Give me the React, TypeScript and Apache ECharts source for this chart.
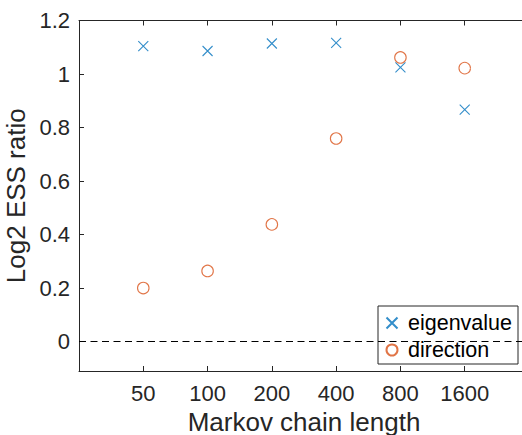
import React, { useEffect, useRef } from "react";
import * as echarts from "echarts";

const categories = ["50", "100", "200", "400", "800", "1600"];
const eigenvalue = [1.104, 1.086, 1.114, 1.116, 1.025, 0.867];
const direction = [0.2, 0.264, 0.438, 0.759, 1.062, 1.022];
const yTicks = [0, 0.2, 0.4, 0.6, 0.8, 1, 1.2];
const xTicks = [1, 2, 3, 4, 5, 6];

const FONT = "'Liberation Sans', Arial, Helvetica, sans-serif";
const AX = "#262626";
const BLUE = "#0072BD";
const ORANGE = "#D95319";
const CROSS = "path://M0,0L10,10M10,0L0,10";

export default function App() {
  const ref = useRef<HTMLDivElement>(null);
  useEffect(() => {
    document.body.style.margin = "0";
    const chart = echarts.init(ref.current!, null, { renderer: "svg" });
    const xBase = {
      type: "value",
      min: 0,
      max: 7,
      splitLine: { show: false },
      axisLine: { show: true, onZero: false, lineStyle: { color: AX, width: 1 } },
      axisTick: { show: true, inside: true, length: 5, customValues: xTicks, lineStyle: { color: AX } },
    };
    chart.setOption({
      animation: false,
      textStyle: { fontFamily: FONT },
      grid: { left: 79, top: 20.5, right: -7, bottom: 64, containLabel: false, outerBoundsMode: "none" },
      xAxis: [
        {
          ...xBase,
          position: "bottom",
          name: "Markov chain length",
          nameLocation: "middle",
          nameGap: 36,
          nameTextStyle: { fontSize: 26, color: AX, fontFamily: FONT },
          axisLabel: {
            show: true,
            customValues: xTicks,
            fontSize: 22,
            color: AX,
            fontFamily: FONT,
            margin: 11,
            formatter: (v: number) => categories[Math.round(v) - 1] ?? "",
          },
        },
        { ...xBase, position: "top", axisLabel: { show: false } },
      ],
      yAxis: {
        type: "value",
        min: -0.11,
        max: 1.2,
        splitLine: { show: false },
        name: "Log2 ESS ratio",
        nameLocation: "middle",
        nameGap: 44,
        nameTextStyle: { fontSize: 26, color: AX, fontFamily: FONT },
        axisLine: { show: true, lineStyle: { color: AX, width: 1 } },
        axisTick: { show: true, inside: true, length: 5, customValues: yTicks, lineStyle: { color: AX } },
        axisLabel: {
          customValues: yTicks,
          fontSize: 22,
          color: AX,
          fontFamily: FONT,
          margin: 9,
          formatter: (v: number) => String(+v.toFixed(1)),
        },
      },
      legend: {
        left: 378,
        top: 306,
        orient: "vertical",
        backgroundColor: "#fff",
        borderColor: AX,
        borderWidth: 1,
        borderRadius: 0,
        padding: [6, 6, 3, 6],
        itemGap: 5,
        itemWidth: 22,
        itemHeight: 11,
        textStyle: { fontSize: 21.5, color: "#000", fontFamily: FONT, lineHeight: 20 },
        data: ["eigenvalue", "direction"],
      },
      series: [
        {
          name: "eigenvalue",
          type: "scatter",
          symbol: CROSS,
          symbolSize: 10,
          itemStyle: { color: "none", borderColor: BLUE, borderWidth: 1.1 },
          data: eigenvalue.map((v, i) => [i + 1, v]),
          markLine: {
            silent: true,
            symbol: ["none", "none"],
            label: { show: false },
            lineStyle: { color: "#000", type: [7, 4.5], width: 1 },
            data: [{ yAxis: 0 }],
          },
        },
        {
          name: "direction",
          type: "scatter",
          symbol: "circle",
          symbolSize: 11.5,
          itemStyle: { color: "none", borderColor: ORANGE, borderWidth: 1.1 },
          data: direction.map((v, i) => [i + 1, v]),
        },
      ],
    });
    return () => chart.dispose();
  }, []);
  return <div ref={ref} style={{ width: 522, height: 435 }} />;
}
